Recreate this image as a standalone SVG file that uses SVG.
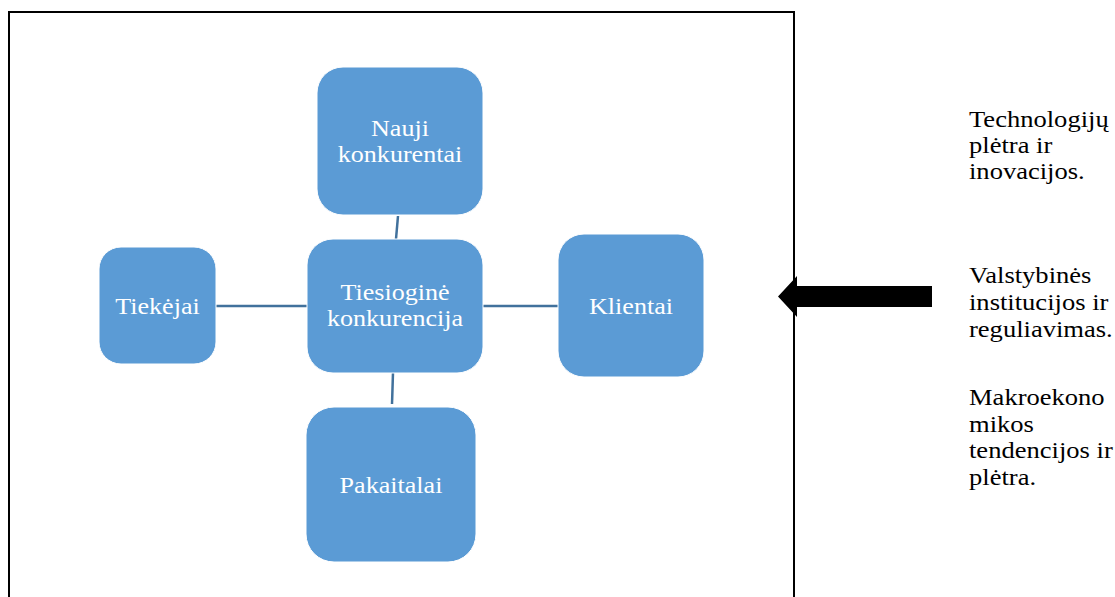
<svg xmlns="http://www.w3.org/2000/svg" width="1115" height="597" viewBox="0 0 1115 597">
  <style>
    .node rect { fill: #5B9BD5; stroke: #FFFFFF; stroke-width: 1; }
    .node text { fill: #FFFFFF; font-family: "Liberation Serif", "Times New Roman", serif; font-size: 23.5px; text-anchor: middle; }
    .link { stroke: #41719C; stroke-width: 2.5; fill: none; }
    .note { fill: #000000; font-family: "Liberation Serif", "Times New Roman", serif; font-size: 23.5px; }
  </style>
  <rect width="1115" height="597" fill="#FFFFFF"/>

  <!-- outer frame (bottom edge runs off the page) -->
  <path d="M9,610 V12 H794 V610" fill="none" stroke="#000000" stroke-width="2"/>

  <!-- connectors -->
  <g id="connectors">
    <line class="link" x1="398" y1="216" x2="396" y2="239"/>
    <line class="link" x1="216" y1="306" x2="307" y2="306"/>
    <line class="link" x1="483" y1="306" x2="558" y2="306"/>
    <line class="link" x1="393" y1="373" x2="392" y2="404"/>
  </g>

  <g id="node-nauji" class="node">
    <rect x="317" y="67" width="166" height="148" rx="26"/>
    <g transform="translate(400 0) scale(1.11 1)">
      <text x="0" y="136">Nauji</text>
      <text x="0" y="162">konkurentai</text>
    </g>
  </g>

  <g id="node-tiesiogine" class="node">
    <rect x="307" y="239" width="176" height="134" rx="26"/>
    <g transform="translate(395 0) scale(1.11 1)">
      <text x="0" y="300">Tiesioginė</text>
      <text x="0" y="326">konkurencija</text>
    </g>
  </g>

  <g id="node-tiekejai" class="node">
    <rect x="99" y="247" width="117" height="117" rx="22"/>
    <g transform="translate(157.5 0) scale(1.11 1)">
      <text x="0" y="314">Tiekėjai</text>
    </g>
  </g>

  <g id="node-klientai" class="node">
    <rect x="558" y="234" width="146" height="143" rx="26"/>
    <g transform="translate(631 0) scale(1.11 1)">
      <text x="0" y="314">Klientai</text>
    </g>
  </g>

  <g id="node-pakaitalai" class="node">
    <rect x="306" y="407" width="170" height="155" rx="28"/>
    <g transform="translate(391 0) scale(1.11 1)">
      <text x="0" y="493">Pakaitalai</text>
    </g>
  </g>

  <!-- external influence arrow -->
  <g id="arrow">
    <polygon points="932,286 797,286 797,276 778,296.5 797,317 797,307 932,307" fill="#000000"/>
  </g>

  <g id="factors" class="note" transform="translate(969 0) scale(1.13 1)">
    <text x="0" y="127">Technologijų</text>
    <text x="0" y="153">plėtra ir</text>
    <text x="0" y="179">inovacijos.</text>
    <text x="0" y="283">Valstybinės</text>
    <text x="0" y="310">institucijos ir</text>
    <text x="0" y="337">reguliavimas.</text>
    <text x="0" y="405">Makroekono</text>
    <text x="0" y="432">mikos</text>
    <text x="0" y="458">tendencijos ir</text>
    <text x="0" y="485">plėtra.</text>
  </g>
</svg>
